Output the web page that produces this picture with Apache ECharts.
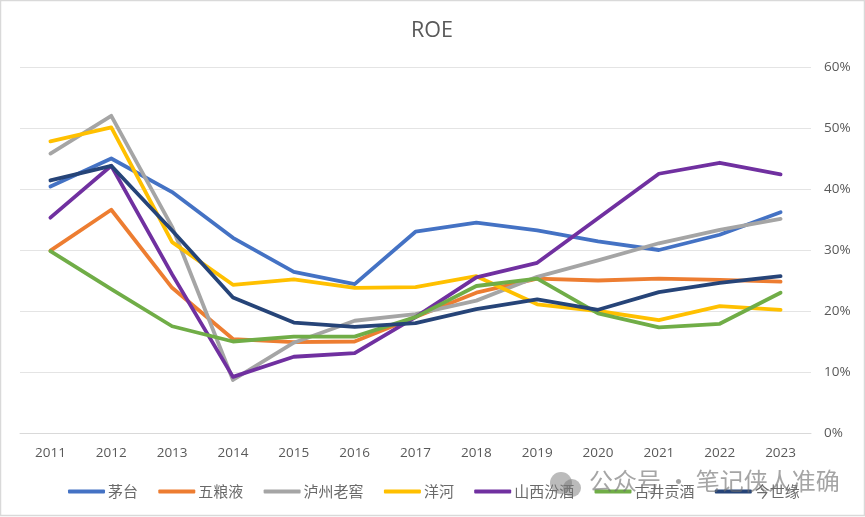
<!DOCTYPE html>
<html><head><meta charset="utf-8">
<style>html,body{margin:0;padding:0;background:#fff}#c{width:865px;height:517px}</style>
<script src="https://cdn.jsdelivr.net/npm/echarts@6/dist/echarts.min.js"></script>
</head><body><div id="c"></div>
<script>
const categories=['2011','2012','2013','2014','2015','2016','2017','2018','2019','2020','2021','2022','2023'];
const maotai=[40.4,45,39.5,32,26.4,24.4,33,34.5,33.2,31.4,30,32.5,36.2];
const wuliangye=[29.9,36.6,23.8,15.4,14.9,15,19,23,25.3,25,25.3,25.1,24.8];
const luzhou=[45.8,52,33.8,8.7,14.8,18.4,19.5,21.7,25.6,28.3,31.1,33.3,35.1];
const yanghe=[47.8,50.1,31.3,24.3,25.2,23.8,23.9,25.7,21.1,20,18.5,20.8,20.2];
const fenjiu=[35.3,43.8,26,9.2,12.5,13.1,19,25.5,27.9,35.2,42.5,44.3,42.4];
const gujing=[29.8,23.6,17.5,15,15.8,15.8,19,24.1,25.3,19.6,17.3,17.9,23];
const jinshiyuan=[41.4,43.8,33.2,22.2,18.1,17.4,18,20.3,21.9,20.2,23.1,24.6,25.7];
const names=['茅台','五粮液','泸州老窖','洋河','山西汾酒','古井贡酒','今世缘'];
const colors=['#4472C4','#ED7D31','#A5A5A5','#FFC000','#7030A0','#70AD47','#264478'];
const values=[maotai,wuliangye,luzhou,yanghe,fenjiu,gujing,jinshiyuan];
const font='"Noto Sans CJK SC","Open Sans",sans-serif';
const chart=echarts.init(document.getElementById('c'),null,{renderer:'canvas'});
chart.setOption({
  animation:false,backgroundColor:'#fff',color:colors,
  title:{text:'ROE',left:406,top:15,textStyle:{fontFamily:'"Open Sans",sans-serif',fontSize:21.5,fontWeight:'normal',color:'#595959'}},
  legend:{left:63,top:479,itemWidth:37,itemHeight:4,itemGap:20.3,icon:'roundRect',
    textStyle:{fontFamily:font,fontSize:15,color:'#6a6a6a',padding:[0,0,0,-2]},data:names},
  grid:{left:20,right:54,top:67,bottom:84,containLabel:false},
  xAxis:{type:'category',data:categories,boundaryGap:true,axisLine:{lineStyle:{color:'#D9D9D9',width:1}},axisTick:{show:false},
    axisLabel:{fontFamily:'"Open Sans",sans-serif',fontSize:13.5,color:'#595959',margin:13}},
  yAxis:{type:'value',position:'right',min:0,max:60,interval:10,axisLine:{show:false},axisTick:{show:false},
    splitLine:{lineStyle:{color:'#E4E4E4',width:1.2}},
    axisLabel:{formatter:'{value}%',fontFamily:'"Open Sans",sans-serif',fontSize:13.5,color:'#595959',margin:13}},
  series:names.map((n,i)=>({name:n,type:'line',data:values[i],symbol:'none',smooth:false,lineStyle:{width:3.8,cap:'round',join:'round',color:colors[i]},itemStyle:{color:colors[i]}})),
  graphic:[
    {type:'rect',silent:true,shape:{x:0.5,y:0.5,width:864,height:515},style:{fill:'none',stroke:'#D9D9D9',lineWidth:1.5},z:-1},
    {type:'circle',silent:true,shape:{cx:561,cy:483,r:11},style:{fill:'rgba(120,120,120,0.5)'},z:50},
    {type:'circle',silent:true,shape:{cx:572,cy:488,r:9},style:{fill:'rgba(120,120,120,0.5)'},z:50},
    {type:'text',silent:true,x:589,y:481,z:50,style:{text:'公众号 · 笔记侠人准确',fontFamily:font,fontSize:24,fill:'rgba(110,110,110,0.62)',verticalAlign:'middle'}}
  ]
});
</script></body></html>
